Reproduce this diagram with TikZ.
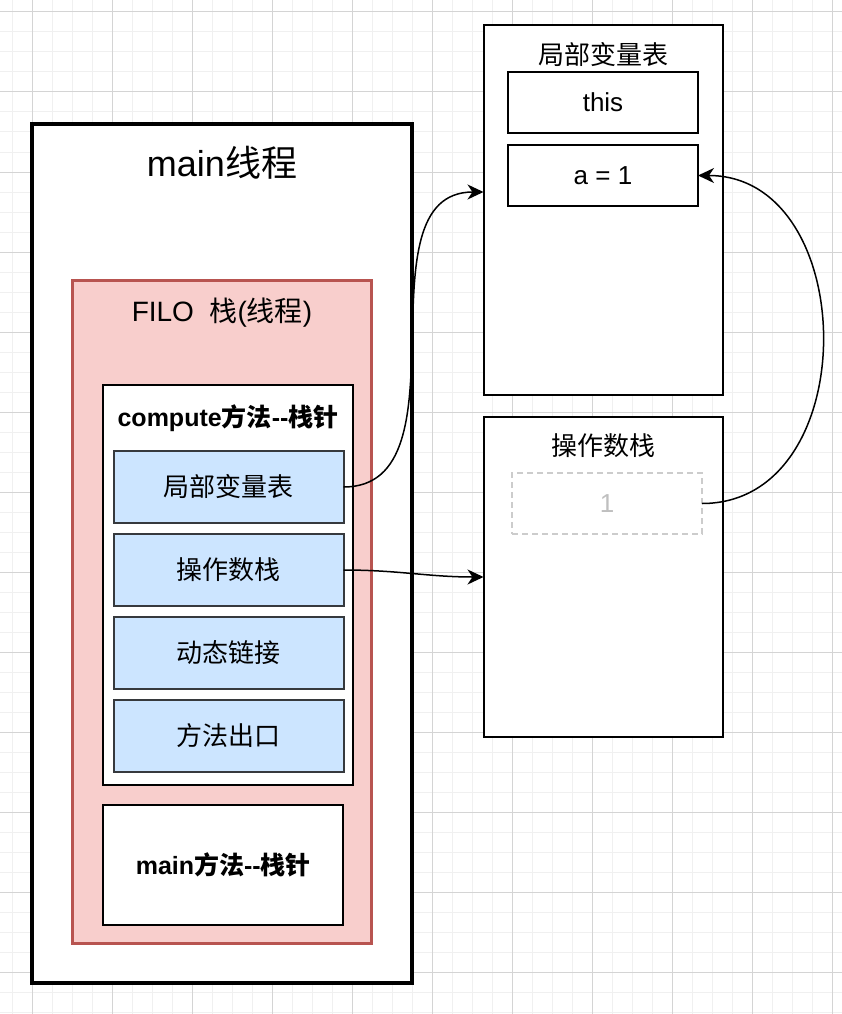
\documentclass[tikz,border=0pt]{standalone}
\usepackage{fontspec}
\setmainfont{Liberation Sans}
\newfontfamily\cjk{Noto Sans CJK SC}
\usetikzlibrary{positioning,arrows.meta}
\definecolor{redfill}{HTML}{F8CECC}
\definecolor{redline}{HTML}{B85450}
\definecolor{bluefill}{HTML}{CCE5FF}
\definecolor{blueline}{HTML}{36393D}
\newcommand{\zh}[1]{{\cjk #1}}
\newcommand{\dashes}{-\kern0pt-}

\begin{document}
\begin{tikzpicture}[x=1pt, y=-1pt,
    box/.style={draw, line width=2pt, fill=white, outer sep=0pt, inner sep=0pt, font=\fontsize{26}{31}\selectfont},
    bluebox/.style={box, draw=blueline, fill=bluefill, minimum width=230pt, minimum height=72pt},
    cell/.style={box, minimum width=190pt, minimum height=61pt},
    lbl/.style={inner sep=0pt, font=\fontsize{26}{31}\selectfont},
    arrow/.style={-{Stealth[length=16pt, width=15pt, inset=5pt]}, line width=1.5pt},
    gridminor/.style={black!6, line width=1pt},
    gridmajor/.style={black!17, line width=1pt}
]
\useasboundingbox (0,0) rectangle (842,1014);

% Cuadricula de fondo
\foreach \x in {12,32,...,832} \draw[gridminor] (\x,0) -- (\x,1014);
\foreach \y in {12,32,...,1012} \draw[gridminor] (0,\y) -- (842,\y);
\foreach \x in {32,112,...,832} \draw[gridmajor] (\x,0) -- (\x,1014);
\foreach \y in {12,92,...,1012} \draw[gridmajor] (0,\y) -- (842,\y);

% Hilo main
\node[box, line width=4pt, minimum width=379.5pt, minimum height=858.5pt] (mainthr) at (221.75,553.75) {};
\node[lbl, font=\fontsize{36}{43}\selectfont] (mainlbl) at (222,163) {main\zh{线程}};

% Pila FILO
\node[box, line width=3pt, draw=redline, fill=redfill, minimum width=299.5pt, minimum height=663pt] (filo) at (221.75,611.5) {};
\node[lbl, font=\fontsize{28}{34}\selectfont] (filolbl) at (222,313) {FILO\ \ \zh{栈}(\zh{线程})};

% Marco de compute
\node[box, minimum width=250pt, minimum height=400pt] (compute) at (227.75,585) {};
\node[lbl, font=\fontsize{25}{30}\selectfont\bfseries] (complbl) at (228,418) {compute\zh{方法}\dashes\zh{栈针}};
\node[bluebox] (lvar) at (228.5,487) {\zh{局部变量表}};
\node[bluebox, below=11pt of lvar] (opst) {\zh{操作数栈}};
\node[bluebox, below=11pt of opst] (dyn) {\zh{动态链接}};
\node[bluebox, below=11pt of dyn] (ret) {\zh{方法出口}};

% Marco de main
\node[box, minimum width=240pt, minimum height=120pt, font=\fontsize{25}{30}\selectfont\bfseries] (mainmeth) at (223.3,865) {main\zh{方法}\dashes\zh{栈针}};

% Tabla de variables locales
\node[box, minimum width=239pt, minimum height=369.5pt] (lvt) at (603,209.75) {};
\node[lbl] (lvtlbl) at (603,55) {\zh{局部变量表}};
\node[cell] (this) at (603,102.5) {this};
\node[cell, below=12pt of this] (aval) {a = 1};

% Pila de operandos
\node[box, minimum width=239pt, minimum height=320pt] (ops) at (603,577) {};
\node[lbl] (opslbl) at (603,446) {\zh{操作数栈}};
\node[cell, draw=black!20, text=black!25, dash pattern=on 6pt off 4pt] (one) at (607,503.5) {1};

% Conexiones
\draw[arrow] (lvar.east) to[out=0, in=180] ([yshift=17.75pt]lvt.west);
\draw[arrow] (opst.east) to[out=0, in=180] (ops.west);
\draw[arrow] (one.east) to[out=0, in=0, looseness=1.27] (aval.east);

\end{tikzpicture}
\end{document}
